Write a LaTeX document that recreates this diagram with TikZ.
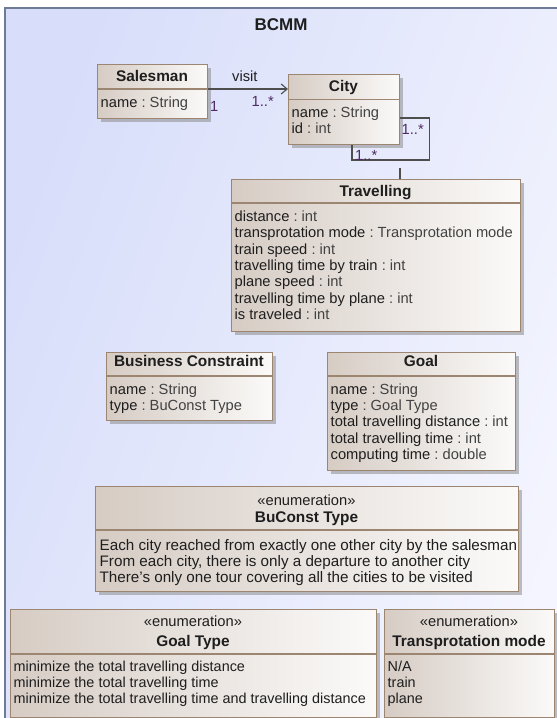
\documentclass[tikz,border=0pt]{standalone}
\usepackage{fontspec}
\setmainfont{Liberation Sans}
\usetikzlibrary{shadows,arrows.meta}
\definecolor{bgL}{HTML}{D8DEFA}
\definecolor{bgR}{HTML}{F4F5FE}
\definecolor{framec}{HTML}{6F7A96}
\definecolor{boxborder}{HTML}{9C8672}
\definecolor{tanL}{HTML}{D6CCC4}
\definecolor{tanR}{HTML}{FBFAF9}
\definecolor{linec}{HTML}{4E4E4E}
\definecolor{multc}{HTML}{4F2A63}
\definecolor{namec}{HTML}{1E1E1E}
\definecolor{typec}{HTML}{424242}
\newcommand{\rfont}{\fontsize{14.7}{16.3}\selectfont}
\newcommand{\bigrfont}{\fontsize{15.2}{16.3}\selectfont}
\newcommand{\smallrfont}{\fontsize{14.4}{16.3}\selectfont}
\newcommand{\bfont}{\fontsize{15.4}{17}\selectfont\bfseries}
\newcommand{\av}[2]{#1\ {\color{typec}:\ #2}}
\tikzset{
  classbox/.style={draw=boxborder, line width=1.3pt, rectangle, inner sep=0pt,
    anchor=north west, left color=tanL, right color=tanR,
    drop shadow={shadow xshift=3pt, shadow yshift=-3pt, fill=black!45, opacity=0.55}},
  divline/.style={draw=boxborder, line width=1.3pt},
  attr/.style={inner sep=0pt, anchor=base west, font=\rfont, text=namec},
  ctitle/.style={inner sep=0pt, anchor=base, font=\bfont, text=namec},
  stereo/.style={inner sep=0pt, anchor=base, font=\rfont, text=namec},
  mult/.style={inner sep=0pt, anchor=base west, font=\rfont, text=multc},
  assoc/.style={draw=linec, line width=1.1pt},
}
\newcommand{\umlclass}[6]{%
  \node[classbox, minimum width={#4-#2}, minimum height={#5-#3}] (#1) at (#2,#3) {};
  \draw[divline] (#2,#6) -- (#4,#6);
}
\begin{document}
\begin{tikzpicture}[x=1pt,y=-1pt]
\useasboundingbox (0,0) rectangle (557,718);
% frame
\fill[left color=bgL, right color=bgR, shading angle=70] (5,8) rectangle (580,740);
\draw[draw=framec, line width=1.5pt] (580,8) -- (5,8) -- (5,740);
\node[inner sep=0pt, anchor=base, font=\fontsize{17}{20}\selectfont\bfseries, text=namec] (frametitle) at (281,30) {BCMM};

% Salesman
\umlclass{sales}{97}{64}{207}{118}{89}
\node[ctitle] (sales-t) at (152,81.7) {Salesman};
\node[attr] (sales-a1) at (100.5,107) {\av{name}{String}};

% City
\umlclass{city}{288}{74}{399}{144}{99.3}
\node[ctitle] (city-t) at (343.5,91.7) {City};
\node[attr] (city-a1) at (291.5,117) {\av{name}{String}};
\node[attr] (city-a2) at (291.5,133.5) {\av{id}{int}};

% Travelling
\umlclass{travel}{231}{179}{520}{331}{203}
\node[ctitle] (travel-t) at (375.5,196.7) {Travelling};
\node[attr] (travel-a1) at (234.5,221.5) {\av{distance}{int}};
\node[attr] (travel-a2) at (234.5,237.8) {\av{transprotation mode}{Transprotation mode}};
\node[attr] (travel-a3) at (234.5,254.1) {\av{train speed}{int}};
\node[attr] (travel-a4) at (234.5,270.4) {\av{travelling time by train}{int}};
\node[attr] (travel-a5) at (234.5,286.7) {\av{plane speed}{int}};
\node[attr] (travel-a6) at (234.5,303.0) {\av{travelling time by plane}{int}};
\node[attr] (travel-a7) at (234.5,319.3) {\av{is traveled}{int}};

% Business Constraint
\umlclass{bc}{106}{352}{272}{420}{376}
\node[ctitle] (bc-t) at (189,366.7) {Business Constraint};
\node[attr] (bc-a1) at (109.5,394.3) {\av{name}{String}};
\node[attr] (bc-a2) at (109.5,410.4) {\av{type}{BuConst Type}};

% Goal
\umlclass{goal}{327}{352}{515}{470}{376}
\node[ctitle] (goal-t) at (421,366.7) {Goal};
\node[attr] (goal-a1) at (330.5,394.3) {\av{name}{String}};
\node[attr] (goal-a2) at (330.5,410.6) {\av{type}{Goal Type}};
\node[attr] (goal-a3) at (330.5,426.9) {\av{total travelling distance}{int}};
\node[attr] (goal-a4) at (330.5,443.2) {\av{total travelling time}{int}};
\node[attr] (goal-a5) at (330.5,459.5) {\av{computing time}{double}};

% BuConst Type
\umlclass{buc}{95}{486}{518}{591}{530}
\node[stereo] (buc-s) at (306.5,505) {«enumeration»};
\node[ctitle] (buc-t) at (306.5,522.7) {BuConst Type};
\node[attr, font=\bigrfont] (buc-a1) at (99.5,550) {Each city reached from exactly one other city by the salesman};
\node[attr, font=\bigrfont] (buc-a2) at (99.5,566) {From each city, there is only a departure to another city};
\node[attr, font=\bigrfont] (buc-a3) at (99.5,582) {There's only one tour covering all the cities to be visited};

% Goal Type
\umlclass{gt}{10}{609}{376}{717}{654}
\node[stereo] (gt-s) at (193,626.7) {«enumeration»};
\node[ctitle] (gt-t) at (193,646.7) {Goal Type};
\node[attr, font=\smallrfont] (gt-a1) at (13.5,671) {minimize the total travelling distance};
\node[attr, font=\smallrfont] (gt-a2) at (13.5,687.3) {minimize the total travelling time};
\node[attr, font=\smallrfont] (gt-a3) at (13.5,703.5) {minimize the total travelling time and travelling distance};

% Transprotation mode
\umlclass{tm}{384}{609}{554}{717}{654}
\node[stereo] (tm-s) at (469,626.7) {«enumeration»};
\node[ctitle] (tm-t) at (469,646.7) {Transprotation mode};
\node[attr, font=\smallrfont] (tm-a1) at (387.5,671) {N/A};
\node[attr, font=\smallrfont] (tm-a2) at (387.5,687.3) {train};
\node[attr, font=\smallrfont] (tm-a3) at (387.5,703.5) {plane};

% visit association
\coordinate (v1) at ([yshift=-25pt]sales.north east);
\draw[assoc, -{Straight Barb[length=6pt,width=10pt,line width=1.1pt]}] (v1) -- (v1 -| city.west);
\node[inner sep=0pt, anchor=base west, font=\rfont, text=namec] (visit) at (232,81) {visit};
\node[mult] (m1) at (210,111.5) {1};
\node[mult] (m2) at (251.5,106) {1..*};

% self association
\draw[assoc] ([yshift=-44pt]city.north east) -- ++(29,0) -- ++(0,42) -| ([xshift=64pt]city.south west);
\node[mult] (m3) at (401.5,134.3) {1..*};
\node[mult] (m4) at (355,160) {1..*};

% association class link
\coordinate (ac) at (400,168);
\draw[assoc] (ac) -- (ac |- travel.north);
\end{tikzpicture}
\end{document}
